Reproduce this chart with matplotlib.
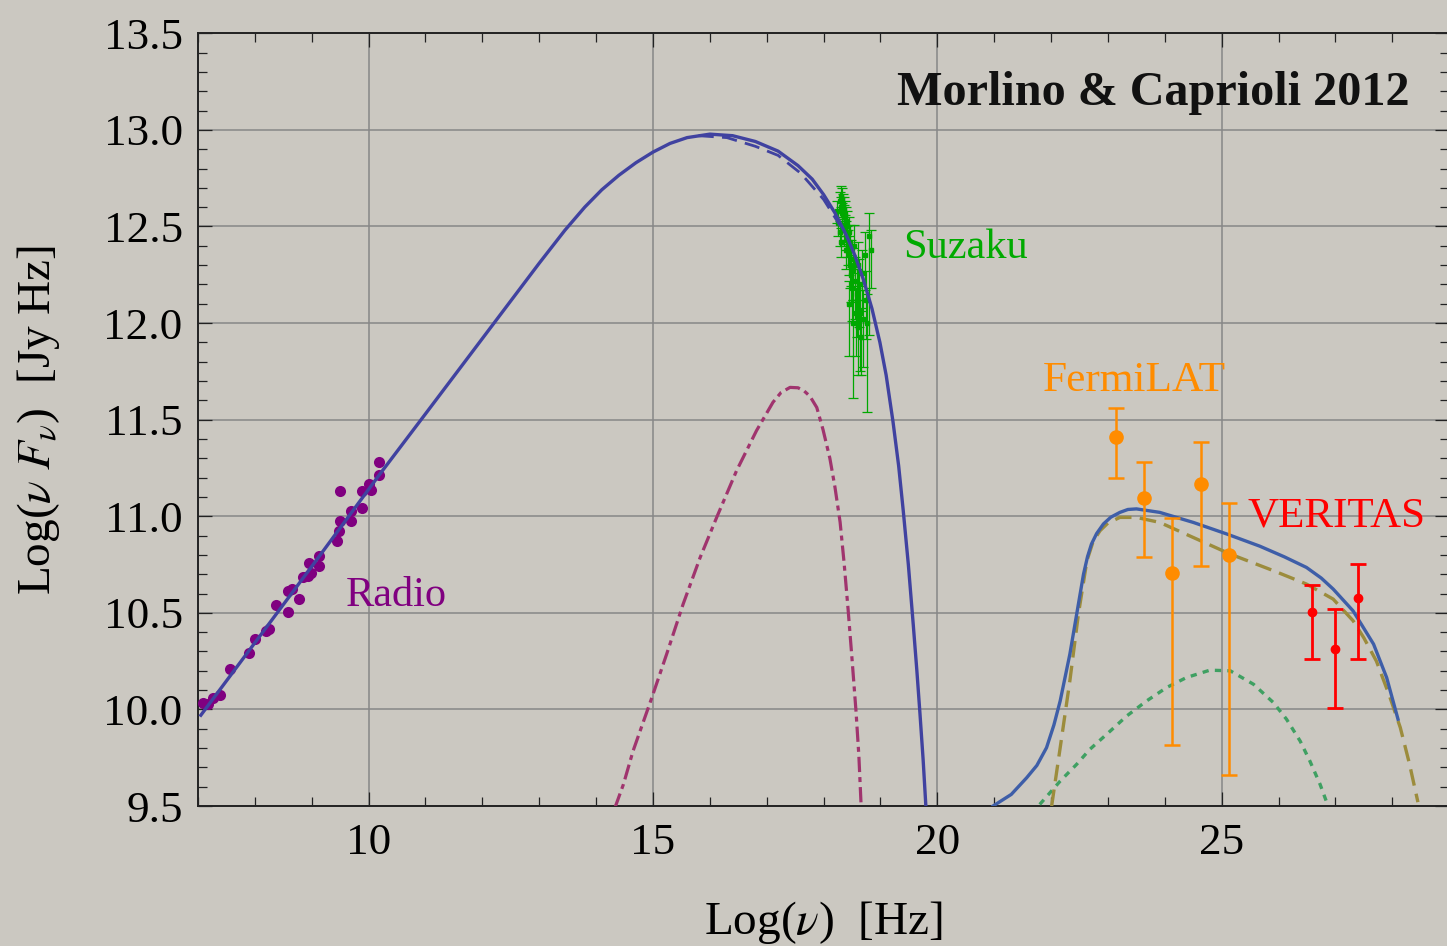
import numpy as np
import matplotlib.pyplot as plt
from matplotlib.ticker import MultipleLocator, FormatStrFormatter

plt.rcParams['font.family'] = ['Liberation Serif', 'DejaVu Serif']
plt.rcParams['mathtext.fontset'] = 'stix'
plt.rcParams['lines.scale_dashes'] = False

BG = '#cbc8c1'

# radio data (log nu, log nuFnu)
radio_x = [7.08, 7.18, 7.27, 7.39, 7.56, 7.90, 8.00, 8.19, 8.25, 8.37, 8.59, 8.59, 8.65,
           8.77, 8.84, 8.94, 8.98, 8.96, 9.13, 9.13, 9.44, 9.48, 9.50, 9.69, 9.69, 9.88,
           9.88, 10.01, 10.04, 9.50, 10.18, 10.18]
radio_y = [10.035, 10.027, 10.061, 10.075, 10.211, 10.293, 10.365, 10.407, 10.415, 10.541,
           10.502, 10.614, 10.623, 10.574, 10.683, 10.693, 10.704, 10.756, 10.744, 10.794,
           10.873, 10.922, 10.977, 10.973, 11.029, 11.043, 11.132, 11.167, 11.136, 11.129,
           11.215, 11.281]

# Suzaku X-ray points
suz_x = [18.28, 18.30, 18.31, 18.32, 18.33, 18.34, 18.35, 18.36, 18.37, 18.38, 18.39, 18.40,
         18.41, 18.42, 18.43, 18.44, 18.45, 18.46, 18.47, 18.48, 18.49, 18.50, 18.52, 18.52,
         18.55, 18.57, 18.58, 18.60, 18.62, 18.64, 18.66, 18.68, 18.70, 18.72, 18.74, 18.77,
         18.80, 18.83, 18.45, 18.35, 18.40, 18.24, 18.26, 18.29, 18.31, 18.54, 18.61]
suz_y = [12.63, 12.66, 12.60, 12.64, 12.57, 12.61, 12.55, 12.59, 12.50, 12.56, 12.46, 12.53,
         12.43, 12.50, 12.40, 12.47, 12.36, 12.30, 12.42, 12.25, 12.33, 12.18, 12.28, 12.00,
         12.22, 12.05, 12.15, 11.98, 12.20, 12.05, 11.93, 12.26, 12.02, 12.35, 12.12, 12.00,
         12.45, 12.38, 12.10, 12.48, 12.38, 12.58, 12.52, 12.47, 12.42, 12.40, 12.30]
suz_lo = [0.05, 0.06, 0.05, 0.06, 0.06, 0.06, 0.06, 0.07, 0.07, 0.07, 0.08, 0.08,
          0.09, 0.09, 0.10, 0.10, 0.11, 0.12, 0.12, 0.14, 0.14, 0.17, 0.16, 0.39,
          0.20, 0.22, 0.22, 0.25, 0.22, 0.30, 0.20, 0.20, 0.25, 0.18, 0.20, 0.46,
          0.51, 0.20, 0.27, 0.08, 0.10, 0.06, 0.07, 0.07, 0.08, 0.14, 0.18]
suz_hi = [0.05, 0.05, 0.05, 0.06, 0.05, 0.06, 0.06, 0.06, 0.06, 0.07, 0.07, 0.07,
          0.07, 0.08, 0.08, 0.08, 0.09, 0.09, 0.09, 0.10, 0.10, 0.11, 0.11, 0.12,
          0.12, 0.13, 0.13, 0.14, 0.13, 0.14, 0.15, 0.12, 0.15, 0.12, 0.15, 0.15,
          0.12, 0.10, 0.12, 0.06, 0.07, 0.05, 0.06, 0.06, 0.07, 0.11, 0.12]

# Fermi-LAT
lat_x = [23.135, 23.638, 24.13, 24.635, 25.133]
lat_y = [11.409, 11.093, 10.706, 11.165, 10.800]
lat_lo = [0.213, 0.306, 0.892, 0.425, 1.138]
lat_hi = [0.152, 0.188, 0.283, 0.220, 0.269]

# VERITAS
ver_x = [26.587, 26.985, 27.39]
ver_y = [10.504, 10.313, 10.578]
ver_lo = [0.242, 0.306, 0.315]
ver_hi = [0.138, 0.208, 0.174]

# synchrotron (solid) and the alternative cutoff (dashed)
syn_x = [7.05, 8.0, 9.0, 10.2, 11.0, 12.0, 12.5, 13.0, 13.45, 13.8, 14.1, 14.4, 14.7, 15.0,
         15.3, 15.6, 16.0, 16.4, 16.8, 17.2, 17.55, 17.8, 18.0, 18.2, 18.4, 18.55, 18.7,
         18.85, 18.99, 19.1, 19.22, 19.32, 19.4, 19.49, 19.576, 19.64, 19.694, 19.75, 19.8]
syn_y = [9.97, 10.345, 10.74, 11.219, 11.53, 11.92, 12.115, 12.31, 12.48, 12.60, 12.69,
         12.765, 12.83, 12.885, 12.93, 12.96, 12.978, 12.97, 12.94, 12.89, 12.815, 12.745,
         12.665, 12.57, 12.455, 12.35, 12.225, 12.075, 11.90, 11.73, 11.49, 11.26, 11.03,
         10.75, 10.44, 10.20, 9.98, 9.74, 9.49]
syn2_x = [15.8, 16.3, 16.8, 17.2, 17.6, 18.0, 18.3]
syn2_y = [12.970, 12.960, 12.915, 12.868, 12.775, 12.64, 12.50]

# pion decay
pi_x = [14.33, 14.48, 14.65, 14.98, 15.24, 15.53, 15.83, 16.12, 16.47, 16.82, 17.11, 17.25,
        17.41, 17.55, 17.66, 17.76, 17.88, 17.99, 18.11, 18.2, 18.29, 18.36, 18.43, 18.5,
        18.57, 18.62, 18.66]
pi_y = [9.49, 9.612, 9.785, 10.061, 10.286, 10.545, 10.787, 10.994, 11.236, 11.443, 11.59,
        11.64, 11.667, 11.665, 11.648, 11.621, 11.563, 11.448, 11.30, 11.15, 10.97, 10.76,
        10.52, 10.26, 9.99, 9.76, 9.5]

# total gamma ray
ic_x = [20.98, 21.3, 21.57, 21.75, 21.92, 22.05, 22.16, 22.33, 22.45, 22.57, 22.64, 22.71,
        22.8, 22.92, 23.05, 23.21, 23.35, 23.5, 23.91, 24.5, 25.09, 25.67, 26.1, 26.49, 26.75,
        26.96, 27.31, 27.67, 27.9, 28.1]
ic_y = [9.5, 9.56, 9.646, 9.71, 9.802, 9.92, 10.044, 10.286, 10.493, 10.70, 10.79, 10.856,
        10.91, 10.96, 10.995, 11.02, 11.035, 11.038, 11.02, 10.968, 10.908, 10.845, 10.79,
        10.735, 10.68, 10.623, 10.51, 10.338, 10.165, 9.949]

# pion contribution
had_x = [22.01, 22.16, 22.33, 22.48, 22.63, 22.74, 22.86, 23.0, 23.21, 23.5, 23.91, 24.5,
         25.15, 25.91, 26.49, 26.96, 27.31, 27.5, 27.72, 27.95, 28.14, 28.3, 28.45]
had_y = [9.5, 9.802, 10.148, 10.493, 10.77, 10.87, 10.925, 10.965, 10.994, 10.994, 10.968,
         10.89, 10.804, 10.718, 10.649, 10.571, 10.459, 10.37, 10.25, 10.07, 9.906, 9.72, 9.52]

# inverse compton
icl_x = [21.80, 22.16, 22.45, 22.68, 23.04, 23.33, 23.68, 24.03, 24.38, 24.79, 25.15, 25.56,
         25.91, 26.14, 26.38, 26.55, 26.73, 26.87]
icl_y = [9.508, 9.629, 9.716, 9.793, 9.888, 9.966, 10.044, 10.113, 10.165, 10.203, 10.20,
         10.13, 10.035, 9.949, 9.836, 9.733, 9.612, 9.5]

fig = plt.figure(figsize=(14.47, 9.46), dpi=100, facecolor=BG)
ax = fig.add_axes([198 / 1447, 1 - 806 / 946, (1449.2 - 198) / 1447, (806 - 33.3) / 946])
ax.set_facecolor(BG)

ax.set_xlim(7, 29)
ax.set_ylim(9.5, 13.5)
ax.xaxis.set_major_locator(MultipleLocator(5))
ax.xaxis.set_minor_locator(MultipleLocator(1))
ax.yaxis.set_major_locator(MultipleLocator(0.5))
ax.yaxis.set_minor_locator(MultipleLocator(0.1))
ax.yaxis.set_major_formatter(FormatStrFormatter('%.1f'))
ax.tick_params(which='both', direction='in', top=True, right=True, width=0.9, color='#222222')
ax.tick_params(which='major', length=10, labelsize=32.5)
ax.tick_params(which='minor', length=6.5)
ax.tick_params(axis='x', pad=12)
ax.tick_params(axis='y', pad=11)
for s in ax.spines.values():
    s.set_linewidth(1.4)
    s.set_color('#222222')
ax.grid(True, which='major', color='#878787', lw=1.1, zorder=0)
ax.set_axisbelow(True)

ax.plot(syn_x, syn_y, color='#4042a0', lw=2.4, zorder=4, solid_joinstyle='round')
ax.plot(syn2_x, syn2_y, color='#4042a0', lw=2.0, dashes=(11, 6), zorder=4)
ax.plot(pi_x, pi_y, color='#a0346e', lw=2.3, dashes=(11, 3.6, 3.6, 3.6), zorder=3)
ax.plot(icl_x, icl_y, color='#3fa062', lw=2.4, dashes=(4.5, 4.5), zorder=3)
ax.plot(had_x, had_y, color='#9c8c3c', lw=2.4, dashes=(12, 6), zorder=3)
ax.plot(ic_x, ic_y, color='#3e5ea8', lw=2.4, zorder=4, solid_joinstyle='round')

ax.plot(radio_x, radio_y, 'o', color='#800080', ms=8, mec='none', zorder=3)
ax.errorbar(suz_x, suz_y, yerr=[suz_lo, suz_hi], fmt='s', color='#00a800', ms=3.5,
            elinewidth=0.9, capsize=3.6, capthick=0.9, zorder=3)
ax.errorbar(lat_x, lat_y, yerr=[lat_lo, lat_hi], fmt='o', color='#ff8c00', ms=9.5,
            elinewidth=1.8, capsize=6, capthick=1.8, zorder=5)
ax.errorbar(ver_x, ver_y, yerr=[ver_lo, ver_hi], fmt='o', color='#ff0000', ms=6,
            elinewidth=2.0, capsize=6, capthick=2.0, zorder=5)

ax.text(28.31, 13.19, 'Morlino & Caprioli 2012', fontsize=34.7, fontweight='bold',
        ha='right', va='center', color='#111111')
ax.text(19.39, 12.39, 'Suzaku', fontsize=30.5, color='#00aa00', va='center')
ax.text(9.60, 10.59, 'Radio', fontsize=30.5, color='#800080', va='center')
ax.text(21.86, 11.70, 'FermiLAT', fontsize=31.2, color='#ff8c00', va='center')
ax.text(25.45, 11.00, 'VERITAS', fontsize=31, color='#ff0000', va='center')

ax.set_xlabel(r'Log($\nu$)  [Hz]', fontsize=34, labelpad=26)
ax.set_ylabel(r'Log($\nu\ F_{\nu}$)  [Jy Hz]', fontsize=34, labelpad=30)

fig.savefig('out.png', dpi=100, facecolor=BG)
